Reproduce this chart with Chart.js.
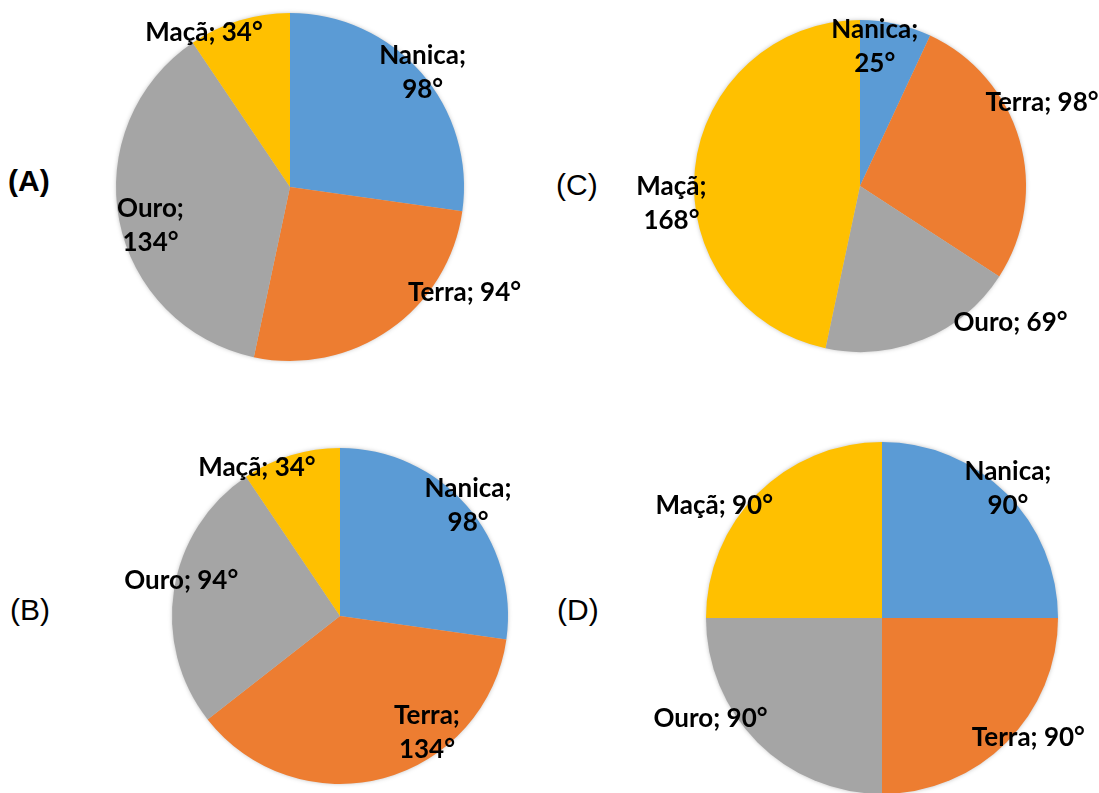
<!DOCTYPE html>
<html>
<head>
<meta charset="utf-8">
<script src="https://cdn.jsdelivr.net/npm/chart.js@4/dist/chart.umd.min.js"></script>
<style>
    html, body { margin: 0; padding: 0; background: #fff; overflow: hidden; }
    body { width: 1099px; height: 793px; position: relative; }
    .panel { position: absolute; }
    .tag {
        position: absolute;
        font-family: 'Liberation Sans', Arial, sans-serif;
        font-size: 30px;
        line-height: 30px;
        color: #000;
        white-space: nowrap;
    }
</style>
</head>
<body>
<div class="tag" id="tagA" style="left:8px; top:166px; font-weight:bold;"></div>
<div class="tag" id="tagC" style="left:556px; top:170px;"></div>
<div class="tag" id="tagB" style="left:10px; top:595px;"></div>
<div class="tag" id="tagD" style="left:557px; top:595px;"></div>

<canvas class="panel" id="pieA" style="left:0; top:0;"></canvas>
<canvas class="panel" id="pieC" style="left:550px; top:0;"></canvas>
<canvas class="panel" id="pieB" style="left:0; top:397px;"></canvas>
<canvas class="panel" id="pieD" style="left:550px; top:397px;"></canvas>

<script>
// Data (degrees per slice)
const categories = ['Nanica', 'Terra', 'Ouro', 'Maçã'];
const anglesA = [98, 94, 134, 34];
const anglesB = [98, 134, 94, 34];
const anglesC = [25, 98, 69, 168];
const anglesD = [90, 90, 90, 90];
const panelTags = ['(A)', '(B)', '(C)', '(D)'];

const sliceColors = ['#5B9BD5', '#ED7D31', '#A5A5A5', '#FFC000'];

// Label placement per slice: [angle clockwise from top, distance / radius, wrap onto two lines]
const placeA = [[49, 1.01, true], [121, 1.17, false], [255, 0.83, true], [331, 1.02, false]];
const placeB = [[49, 1.01, true], [143, 0.86, true], [283, 0.97, false], [331, 1.02, false]];
const placeC = [[6, 0.85, true], [65, 1.21, false], [132, 1.22, false], [265, 1.14, true]];
const placeD = [[44, 1.03, true], [129, 1.07, false], [240, 1.125, false], [304, 1.15, false]];

const labelFont = 'bold 26px Lato, "Open Sans", sans-serif';
const lineHeight = 34;
const capHeight = 19;

document.getElementById('tagA').textContent = panelTags[0];
document.getElementById('tagB').textContent = panelTags[1];
document.getElementById('tagC').textContent = panelTags[2];
document.getElementById('tagD').textContent = panelTags[3];

// Soft rim shadow behind the pie, like the office chart
const rimShadow = {
    id: 'rimShadow',
    beforeDatasetsDraw(chart) {
        const arc = chart.getDatasetMeta(0).data[0];
        if (!arc) return;
        const ctx = chart.ctx;
        ctx.save();
        ctx.shadowColor = 'rgba(0,0,0,0.35)';
        ctx.shadowBlur = 5;
        ctx.fillStyle = '#cccccc';
        ctx.beginPath();
        ctx.arc(arc.x, arc.y, arc.outerRadius - 1, 0, Math.PI * 2);
        ctx.fill();
        ctx.restore();
    }
};

// Data labels "Name; value°" anchored to each arc
const sliceLabels = {
    id: 'sliceLabels',
    afterDatasetsDraw(chart, args, opts) {
        const ctx = chart.ctx;
        const meta = chart.getDatasetMeta(0);
        const values = chart.data.datasets[0].data;
        ctx.save();
        ctx.font = labelFont;
        ctx.fillStyle = '#000';
        ctx.textAlign = 'center';
        ctx.textBaseline = 'alphabetic';
        meta.data.forEach((arc, i) => {
            const [deg, k, wrap] = opts.place[i];
            const a = deg * Math.PI / 180;
            const px = arc.x + arc.outerRadius * k * Math.sin(a);
            const py = arc.y - arc.outerRadius * k * Math.cos(a);
            const name = chart.data.labels[i] + ';';
            const val = values[i] + '°';
            const lines = wrap ? [name, val] : [name + ' ' + val];
            const block = capHeight + (lines.length - 1) * lineHeight;
            lines.forEach((line, j) => {
                ctx.fillText(line, px, py - block / 2 + capHeight + j * lineHeight);
            });
        });
        ctx.restore();
    }
};

function createPie(id, width, height, values, place, padding) {
    const canvas = document.getElementById(id);
    canvas.width = width;
    canvas.height = height;
    canvas.style.width = width + 'px';
    canvas.style.height = height + 'px';

    return new Chart(canvas.getContext('2d'), {
        type: 'pie',
        data: {
            labels: categories,
            datasets: [{
                data: values,
                backgroundColor: sliceColors,
                borderWidth: 0,
                hoverOffset: 0,
                offset: 0
            }]
        },
        options: {
            responsive: false,
            animation: false,
            layout: { padding: padding },
            plugins: {
                legend: { display: false },
                tooltip: { enabled: false },
                sliceLabels: { place: place }
            }
        },
        plugins: [rimShadow, sliceLabels]
    });
}

document.fonts.load(labelFont).finally(() => {
    createPie('pieA', 550, 397, anglesA, placeA, { left: 116, top: 13, right: 86, bottom: 36 });
    createPie('pieC', 549, 397, anglesC, placeC, { left: 144, top: 20, right: 73, bottom: 45 });
    createPie('pieB', 550, 400, anglesB, placeB, { left: 172, top: 51, right: 42, bottom: 13 });
    createPie('pieD', 549, 400, anglesD, placeD, { left: 156, top: 45, right: 41, bottom: 3 });
});
</script>
</body>
</html>
